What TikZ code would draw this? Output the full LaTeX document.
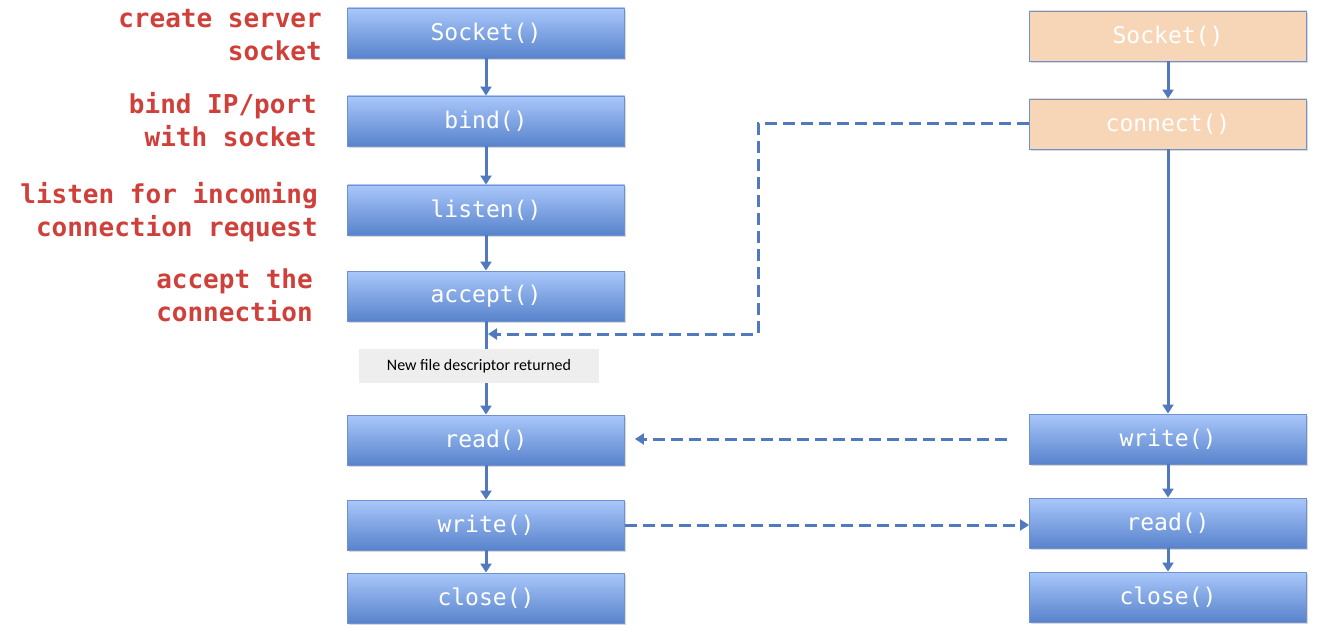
\documentclass[tikz,border=0pt]{standalone}
\usepackage{fontspec}
\setmainfont{Carlito}
\newfontfamily\boxmono{DejaVu Sans Mono}
\newfontfamily\redmono{DejaVu Sans Mono}
\usetikzlibrary{arrows.meta,shadows}
\definecolor{lineblue}{HTML}{5079BE}
\definecolor{boxedge}{HTML}{6F91CF}
\definecolor{boxtop}{HTML}{A9C7FA}
\definecolor{boxbot}{HTML}{5883CC}
\definecolor{peach}{HTML}{F7D6B8}
\definecolor{redtext}{HTML}{CF403A}
\definecolor{notegray}{HTML}{EEEEEE}
\tikzset{
  fnbox/.style={draw=boxedge, line width=0.9pt, top color=boxtop, bottom color=boxbot,
    minimum width=277pt, minimum height=50pt, inner sep=0pt, text=white,
    font=\boxmono\fontsize{23}{27}\selectfont,
    drop shadow={opacity=0.3, shadow xshift=1pt, shadow yshift=-2pt}},
  peachbox/.style={fnbox, top color=peach, bottom color=peach},
  redlabel/.style={anchor=east, align=right, text=redtext,
    font=\redmono\bfseries\fontsize{26}{33}\selectfont, inner sep=0pt},
  note/.style={fill=notegray, minimum width=240pt, minimum height=34pt, inner sep=0pt,
    font=\fontsize{16}{18}\selectfont},
  flow/.style={draw=lineblue, line width=3pt, -{Triangle[width=11pt,length=9pt]}},
  plain/.style={draw=lineblue, line width=3pt},
  dashflow/.style={draw=lineblue, line width=3pt, dash pattern=on 12pt off 6pt,
    -{Triangle[width=11pt,length=9pt]}},
}
\begin{document}
\begin{tikzpicture}[x=1pt,y=-1pt]
\useasboundingbox (0,0) rectangle (1324,636);
% left column
\node[fnbox] (ls) at (486,33) {Socket()};
\node[fnbox] (lb) at (486,121) {bind()};
\node[fnbox] (ll) at (486,210) {listen()};
\node[fnbox] (la) at (486,296) {accept()};
\node[note] (nfd) at (479,366) {New file descriptor returned};
\node[fnbox] (lr) at (486,440) {read()};
\node[fnbox] (lw) at (486,525) {write()};
\node[fnbox] (lc) at (486,598) {close()};
% right column
\node[peachbox] (rs) at (1168,36) {Socket()};
\node[peachbox] (rcn) at (1168,124) {connect()};
\node[fnbox] (rw) at (1168,439) {write()};
\node[fnbox] (rr) at (1168,523) {read()};
\node[fnbox] (rc) at (1168,597) {close()};
% red labels
\node[redlabel] (t1) at (322,35) {create server\\socket};
\node[redlabel] (t2) at (317,120) {bind IP/port\\with socket};
\node[redlabel] (t3) at (318,212) {listen for incoming\\connection request};
\node[redlabel] (t4) at (313,295) {accept the\\connection};
% solid connectors
\draw[flow] (ls) -- (lb);
\draw[flow] (lb) -- (ll);
\draw[flow] (ll) -- (la);
\draw[plain] (la.south) -- (la.south |- nfd.north);
\draw[flow] (la.south |- nfd.south) -- (lr.north);
\draw[flow] (lr) -- (lw);
\draw[flow] (lw) -- (lc);
\draw[flow] (rs) -- (rcn);
\draw[flow] (rcn) -- (rw);
\draw[flow] (rw) -- (rr);
\draw[flow] (rr) -- (rc);
% dashed connectors
\coordinate (k1) at (758,124);
\coordinate (k2) at (758,334);
\coordinate (k3) at (488,334);
\draw[dashflow] (rcn.west) -- (k1) -- (k2) -- (k3);
\draw[dashflow, shorten <=22pt, shorten >=10pt] (rw.west) -- (lr.east |- rw.west);
\draw[dashflow] (lw.east) -- (rr.west |- lw.east);
\end{tikzpicture}
\end{document}
